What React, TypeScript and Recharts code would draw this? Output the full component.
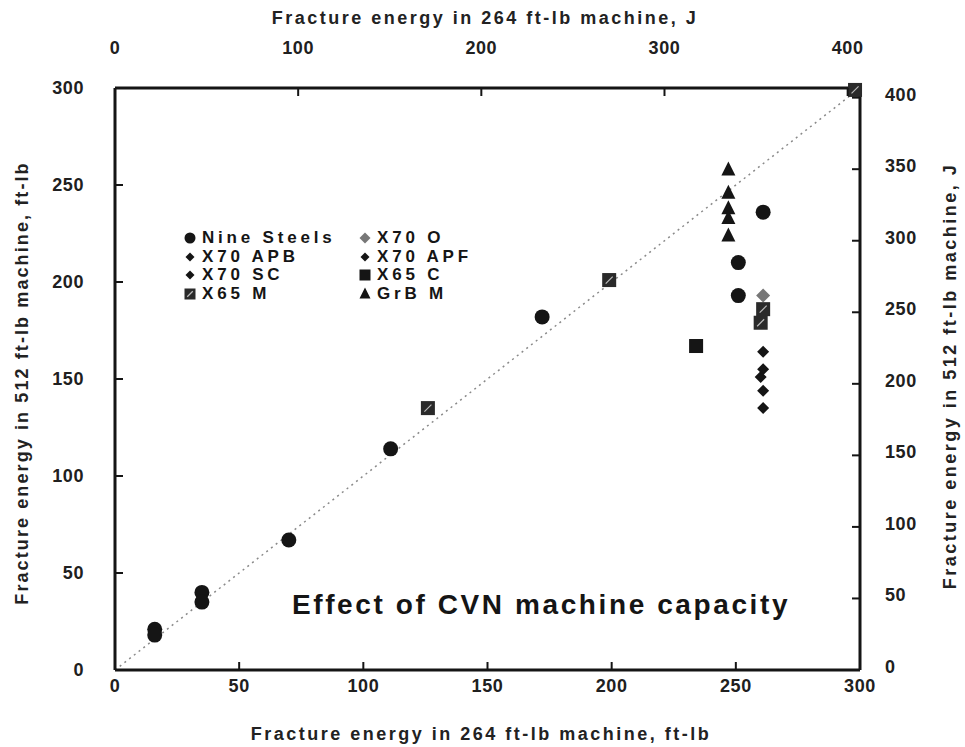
import React from 'react'
import {
  ScatterChart,
  Scatter,
  XAxis,
  YAxis,
  ReferenceLine,
  Legend,
} from 'recharts'

// 1 ft-lb = 1.3558 J, so the J axes run to 300 ft-lb expressed in J
const FT_LB_TO_J = 1.3558
const J_MAX = 300 * FT_LB_TO_J

const ftLbTicks = [0, 50, 100, 150, 200, 250, 300]
const topJTicks = [0, 100, 200, 300, 400]
const rightJTicks = [0, 50, 100, 150, 200, 250, 300, 350, 400]

// x: 264 ft-lb machine, y: 512 ft-lb machine (both ft-lb)
const nineSteels = [
  { x: 16, y: 21 },
  { x: 16, y: 18 },
  { x: 35, y: 40 },
  { x: 35, y: 35 },
  { x: 70, y: 67 },
  { x: 111, y: 114 },
  { x: 172, y: 182 },
  { x: 261, y: 236 },
  { x: 251, y: 210 },
  { x: 251, y: 193 },
]
const x70O = [{ x: 261, y: 193 }]
const x70APB = [{ x: 261, y: 135 }]
const x70APF = [
  { x: 261, y: 164 },
  { x: 260, y: 151 },
]
const x70SC = [
  { x: 261, y: 155 },
  { x: 261, y: 144 },
]
const x65C = [{ x: 234, y: 167 }]
const x65M = [
  { x: 126, y: 135 },
  { x: 199, y: 201 },
  { x: 261, y: 186 },
  { x: 260, y: 179 },
  { x: 298, y: 299 },
]
const grbM = [
  { x: 247, y: 258 },
  { x: 247, y: 246 },
  { x: 247, y: 238 },
  { x: 247, y: 233 },
  { x: 247, y: 224 },
]
// J axes carry no marks of their own; this just anchors them
const jAnchor = [{ x: 0, y: 0 }]

const INK = '#151515'
const FONT = "Arial, 'Liberation Sans', sans-serif"

const Circle = ({ cx, cy, r = 7.5 }: any) => <circle cx={cx} cy={cy} r={r} fill={INK} />
const Diamond = ({ cx, cy, fill = INK, s = 7 }: any) => (
  <polygon points={`${cx},${cy - s} ${cx + s},${cy} ${cx},${cy + s} ${cx - s},${cy}`} fill={fill} />
)
const Square = ({ cx, cy, s = 7 }: any) => <rect x={cx - s} y={cy - s} width={s * 2} height={s * 2} fill={INK} />
const HatchSquare = ({ cx, cy, s = 7 }: any) => (
  <g>
    <rect x={cx - s} y={cy - s} width={s * 2} height={s * 2} fill="#2a2a2a" />
    <line x1={cx - s / 2} y1={cy + s / 2} x2={cx + s / 2} y2={cy - s / 2} stroke="#bbb" strokeWidth={1.2} />
  </g>
)
const Triangle = ({ cx, cy, s = 7 }: any) => (
  <polygon points={`${cx},${cy - s - 1} ${cx + s},${cy + s - 1} ${cx - s},${cy + s - 1}`} fill={INK} />
)

const shapes: Record<string, (p: any) => React.ReactElement> = {
  'Nine Steels': Circle,
  'X70 O': (p) => <Diamond {...p} fill="#777" />,
  'X70 APB': (p) => <Diamond {...p} s={p.s ? p.s - 1 : 6} />,
  'X70 APF': (p) => <Diamond {...p} s={p.s ? p.s - 1 : 6} />,
  'X70 SC': (p) => <Diamond {...p} s={p.s ? p.s - 1 : 6} />,
  'X65 C': Square,
  'X65 M': HatchSquare,
  'GrB M': Triangle,
}

const legendOrder = ['Nine Steels', 'X70 O', 'X70 APB', 'X70 APF', 'X70 SC', 'X65 C', 'X65 M', 'GrB M']

const LegendBox = () => (
  <div
    style={{
      display: 'grid',
      gridTemplateColumns: '175px 170px',
      fontFamily: FONT,
      fontWeight: 'bold',
      fontSize: 17,
      lineHeight: '18.5px',
      letterSpacing: 3.8,
      color: INK,
      whiteSpace: 'nowrap',
    }}
  >
    {legendOrder.map((name) => {
      const Shape = shapes[name]
      return (
        <div key={name} style={{ display: 'flex', alignItems: 'center', height: 18.5 }}>
          <svg width={14} height={14} style={{ marginRight: 5, flex: 'none' }}>
            <Shape cx={7} cy={7} r={5.5} s={5.5} />
          </svg>
          <span>{name}</span>
        </div>
      )
    })}
  </div>
)

const tickText = { fontFamily: FONT, fontSize: 18, fontWeight: 'bold', fill: '#202020', letterSpacing: 0.6 }

const BottomTick = ({ x, y, payload }: any) => (
  <g>
    <line x1={x} x2={x} y1={y - 16} y2={y - 24} stroke={INK} strokeWidth={2} />
    <text x={x} y={y} dominantBaseline="central" textAnchor="middle" {...tickText}>
      {payload.value}
    </text>
  </g>
)
const TopTick = ({ x, y, payload }: any) => (
  <g>
    <line x1={x} x2={x} y1={y + 40} y2={y + 48} stroke={INK} strokeWidth={2} />
    <text x={x} y={y} dominantBaseline="central" textAnchor="middle" {...tickText}>
      {payload.value}
    </text>
  </g>
)
const LeftTick = ({ x, y, payload }: any) => (
  <g>
    <line x1={x + 31} x2={x + 39} y1={y} y2={y} stroke={INK} strokeWidth={2} />
    <text x={x} y={y} dominantBaseline="central" textAnchor="end" {...tickText}>
      {payload.value}
    </text>
  </g>
)
const RightTick = ({ x, y, payload }: any) => (
  <g>
    <line x1={x - 25} x2={x - 33} y1={y} y2={y} stroke={INK} strokeWidth={2} />
    <text x={x} y={y - 3} dominantBaseline="central" textAnchor="start" {...tickText}>
      {payload.value}
    </text>
  </g>
)

const axisTitle = (value: string, x: number, y: number, spacing: number, angle = 0) => () => (
  <text
    x={x}
    y={y}
    textAnchor="middle"
    dominantBaseline="central"
    transform={angle ? `rotate(${angle} ${x} ${y})` : undefined}
    fontFamily={FONT}
    fontSize={18}
    fontWeight="bold"
    fill="#222"
    letterSpacing={spacing}
  >
    {value}
  </text>
)

const axisLine = { stroke: INK, strokeWidth: 3 }

export default function App() {
  return (
    <div style={{ position: 'absolute', left: 0, top: 0, width: 965, height: 747, background: '#fff' }}>
      <ScatterChart width={965} height={747} margin={{ top: 0, right: 0, bottom: 0, left: 0 }}>
        <XAxis
          xAxisId="bottom"
          orientation="bottom"
          type="number"
          dataKey="x"
          domain={[0, 300]}
          ticks={ftLbTicks}
          height={77}
          tickSize={0}
          tickMargin={16}
          tick={<BottomTick />}
          axisLine={axisLine}
          label={{ content: axisTitle('Fracture energy in 264 ft-lb machine, ft-lb', 481, 734, 2.5) }}
        />
        <XAxis
          xAxisId="top"
          orientation="top"
          type="number"
          dataKey="x"
          domain={[0, J_MAX]}
          ticks={topJTicks}
          height={88}
          tickSize={0}
          tickMargin={40}
          tick={<TopTick />}
          axisLine={axisLine}
          allowDataOverflow
          label={{ content: axisTitle('Fracture energy in 264 ft-lb machine, J', 485, 18, 2.5) }}
        />
        <YAxis
          yAxisId="left"
          orientation="left"
          type="number"
          dataKey="y"
          domain={[0, 300]}
          ticks={ftLbTicks}
          width={115}
          tickSize={0}
          tickMargin={31}
          tick={<LeftTick />}
          axisLine={axisLine}
          label={{ content: axisTitle('Fracture energy in 512 ft-lb machine, ft-lb', 22, 383, 2.1, -90) }}
        />
        <YAxis
          yAxisId="right"
          orientation="right"
          type="number"
          dataKey="y"
          domain={[0, J_MAX]}
          ticks={rightJTicks}
          width={105}
          tickSize={0}
          tickMargin={25}
          tick={<RightTick />}
          axisLine={axisLine}
          allowDataOverflow
          label={{ content: axisTitle('Fracture energy in 512 ft-lb machine, J', 950, 376, 2.5, -90) }}
        />
        <ReferenceLine
          xAxisId="bottom"
          yAxisId="left"
          segment={[
            { x: 0, y: 0 },
            { x: 300, y: 300 },
          ]}
          stroke="#8a8a8a"
          strokeWidth={1.5}
          strokeDasharray="2 4"
          ifOverflow="visible"
        />
        <Scatter
          name="J axes"
          data={jAnchor}
          xAxisId="top"
          yAxisId="right"
          legendType="none"
          shape={() => <g />}
          isAnimationActive={false}
        />
        {[
          ['Nine Steels', nineSteels],
          ['X70 O', x70O],
          ['X70 APB', x70APB],
          ['X70 APF', x70APF],
          ['X70 SC', x70SC],
          ['X65 C', x65C],
          ['X65 M', x65M],
          ['GrB M', grbM],
        ].map(([name, data]: any) => (
          <Scatter
            key={name}
            name={name}
            data={data}
            xAxisId="bottom"
            yAxisId="left"
            fill={INK}
            shape={shapes[name]}
            isAnimationActive={false}
          />
        ))}
        <Legend
          layout="horizontal"
          verticalAlign="middle"
          align="center"
          content={<LegendBox />}
          wrapperStyle={{ left: 183, top: 229, width: 360, height: 76 }}
        />
      </ScatterChart>
      <div
        style={{
          position: 'absolute',
          left: 0,
          width: 1082,
          top: 588,
          textAlign: 'center',
          fontFamily: FONT,
          fontWeight: 'bold',
          fontSize: 28,
          letterSpacing: 2.6,
          color: INK,
          lineHeight: '34px',
        }}
      >
        Effect of CVN machine capacity
      </div>
    </div>
  )
}
